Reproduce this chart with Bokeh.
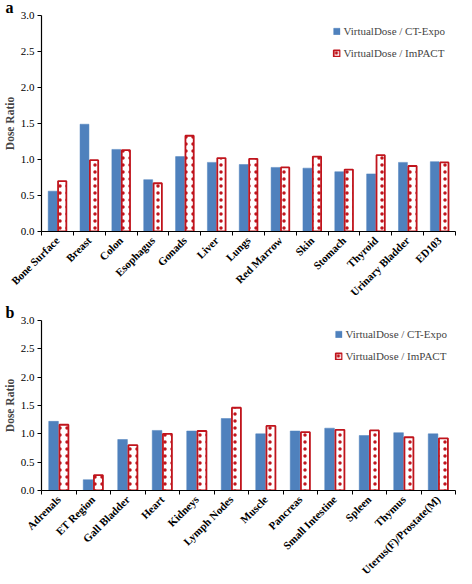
import math
from bokeh.plotting import figure
from bokeh.layouts import column
from bokeh.models import Range1d, FixedTicker, Legend, LegendItem, ColumnDataSource, PrintfTickFormatter
from bokeh.embed import file_html
from bokeh.resources import INLINE

organs_a = ["Bone Surface", "Breast", "Colon", "Esophagus", "Gonads", "Liver", "Lungs",
            "Red Marrow", "Skin", "Stomach", "Thyroid", "Urinary Bladder", "ED103"]
ctexpo_a = [0.56, 1.49, 1.14, 0.72, 1.04, 0.96, 0.93, 0.89, 0.88, 0.83, 0.80, 0.96, 0.97]
impact_a = [0.70, 0.99, 1.13, 0.67, 1.33, 1.02, 1.01, 0.89, 1.04, 0.86, 1.06, 0.91, 0.96]

organs_b = ["Adrenals", "ET Region", "Gall Bladder", "Heart", "Kidneys", "Lymph Nodes", "Muscle",
            "Pancreas", "Small Intestine", "Spleen", "Thymus", "Uterus(F)/Prostate(M)"]
ctexpo_b = [1.22, 0.19, 0.90, 1.06, 1.05, 1.27, 1.00, 1.05, 1.10, 0.97, 1.02, 1.00]
impact_b = [1.16, 0.27, 0.80, 1.00, 1.05, 1.46, 1.14, 1.03, 1.07, 1.06, 0.94, 0.92]

y_ticks = [0.0, 0.5, 1.0, 1.5, 2.0, 2.5, 3.0]
series_names = ["VirtualDose / CT-Expo", "VirtualDose / ImPACT"]

SERIF = "Liberation Serif"
BLUE = "#4F81BD"
RED = "#C0141C"


def panel(letter, organs, s1, s2, height, standoff, legend_margin, legend_spacing):
    n = len(organs)
    centers = [i + 0.5 for i in range(n)]
    p = figure(width=456, height=height, output_backend="svg", toolbar_location=None,
               x_range=Range1d(0, n), y_range=Range1d(0, 3.0),
               min_border_top=0, min_border_bottom=0,
               min_border_left=10, min_border_right=1, title=letter)
    p.title.text_font = SERIF
    p.title.text_font_style = "bold"
    p.title.text_font_size = "16px"
    p.title.text_color = "black"
    p.title.align = "left"
    p.title.vertical_align = "top"
    p.title.offset = -36
    p.title.standoff = standoff
    p.outline_line_color = None
    p.xgrid.visible = False
    p.ygrid.visible = False

    src1 = ColumnDataSource(dict(x=[c - 0.15 for c in centers], top=s1))
    src2 = ColumnDataSource(dict(x=[c + 0.15 for c in centers], top=s2))
    r1 = p.vbar(x="x", top="top", width=0.28, source=src1, fill_color=BLUE, line_color=BLUE, line_width=0.5)
    r2 = p.vbar(x="x", top="top", width=0.26, source=src2, fill_color="white", line_color=RED,
                line_width=1.8, hatch_pattern="dot", hatch_color=RED, hatch_scale=7, hatch_weight=0.4)

    xa = p.xaxis[0]
    xa.ticker = FixedTicker(ticks=centers, minor_ticks=list(range(n + 1)))
    xa.major_label_overrides = {c: o for c, o in zip(centers, organs)}
    xa.major_label_orientation = math.pi / 4
    xa.major_tick_in = 0
    xa.major_tick_out = 0
    xa.minor_tick_in = 0
    xa.minor_tick_out = 4
    xa.minor_tick_line_color = "black"
    xa.axis_line_color = "black"
    xa.axis_line_width = 1.2
    xa.major_label_text_font = SERIF
    xa.major_label_text_font_style = "bold"
    xa.major_label_text_font_size = "11px"
    xa.major_label_text_color = "black"
    xa.major_label_standoff = 3

    ya = p.yaxis[0]
    ya.ticker = FixedTicker(ticks=y_ticks)
    ya.formatter = PrintfTickFormatter(format="%.1f")
    ya.minor_tick_line_color = None
    ya.major_tick_in = 0
    ya.major_tick_out = 4
    ya.axis_line_color = "black"
    ya.axis_line_width = 1.2
    ya.major_label_text_font = SERIF
    ya.major_label_text_font_size = "11px"
    ya.major_label_text_color = "black"
    ya.major_label_standoff = 3
    ya.axis_label = "Dose Ratio"
    ya.axis_label_text_font = SERIF
    ya.axis_label_text_font_style = "bold"
    ya.axis_label_text_font_size = "11.5px"
    ya.axis_label_standoff = 2

    legend = Legend(items=[LegendItem(label=series_names[0], renderers=[r1]),
                           LegendItem(label=series_names[1], renderers=[r2])],
                    location="top_right")
    legend.label_text_font = SERIF
    legend.label_text_font_size = "11px"
    legend.glyph_width = 8
    legend.glyph_height = 8
    legend.label_standoff = 3
    legend.spacing = legend_spacing
    legend.background_fill_alpha = 0
    legend.border_line_alpha = 0
    legend.padding = 4
    legend.margin = legend_margin
    p.add_layout(legend)
    return p


pa = panel("a", organs_a, ctexpo_a, impact_a, height=305, standoff=-4,
           legend_margin=6, legend_spacing=10)
pb = panel("b", organs_b, ctexpo_b, impact_b, height=278, standoff=-4,
           legend_margin=4, legend_spacing=10)

layout = column(pa, pb, spacing=0)
open("out.html", "w").write(file_html(layout, INLINE))
